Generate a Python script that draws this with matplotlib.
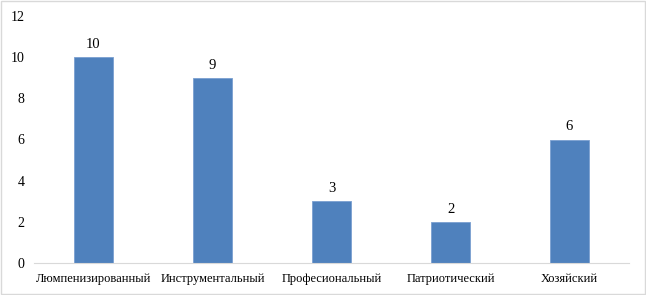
import matplotlib.pyplot as plt
from matplotlib.patches import Rectangle

categories = ["Люмпенизированный", "Инструментальный", "Професиональный",
              "Патриотический", "Хозяйский"]
values = [10, 9, 3, 2, 6]

plt.rcParams['font.family'] = ['Liberation Serif', 'DejaVu Serif']

fig = plt.figure(figsize=(6.46, 2.95), dpi=100)
ax = fig.add_axes([34/646, 32/295, 595/646, 247/295])

bars = ax.bar(range(len(values)), values, width=0.32, color='#4F81BD',
              edgecolor='#7A9FD0', linewidth=0.6)
for b, v in zip(bars, values):
    ax.text(b.get_x() + b.get_width()/2, v + 0.3, str(v), ha='center',
            va='bottom', fontsize=10.5)

ax.set_xlim(-0.5, len(values) - 0.5)
ax.set_ylim(0, 12)
ax.set_yticks(range(0, 13, 2))
ax.set_xticks(range(len(values)))
ax.set_xticklabels(categories, fontsize=9)
ax.tick_params(axis='both', length=0)
ax.tick_params(axis='y', pad=7, labelsize=10)
ax.tick_params(axis='x', pad=7)
for s in ['top', 'right', 'left']:
    ax.spines[s].set_visible(False)
ax.spines['bottom'].set_color('#D9D9D9')

fig.patches.append(Rectangle((1/646, 1/295), 644/646, 293/295,
                             transform=fig.transFigure, fill=False,
                             edgecolor='#D9D9D9', linewidth=1))

fig.savefig('out.png', dpi=100)
